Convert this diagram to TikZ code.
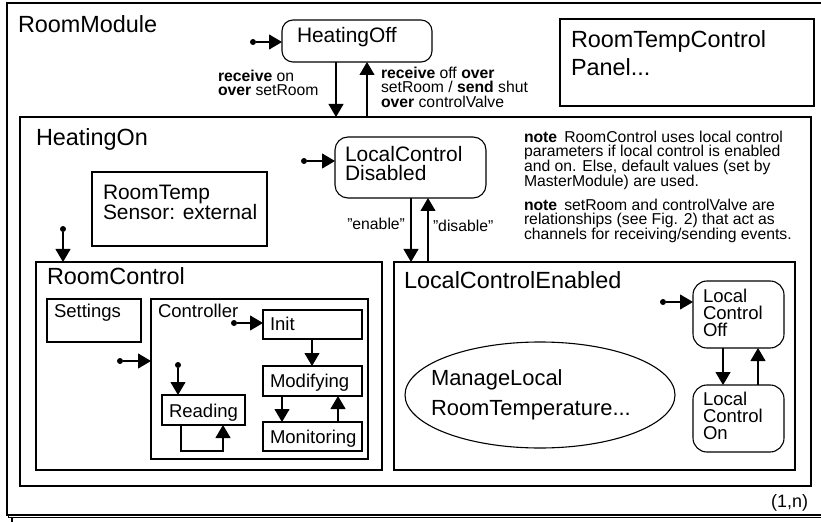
\documentclass[tikz,border=0pt]{standalone}
\usepackage{fontspec}
\setmainfont{Liberation Sans}
\usetikzlibrary{arrows.meta,fit,shapes.geometric}
\begin{document}
\begin{tikzpicture}[x=1bp,y=-1bp,
  every node/.style={inner sep=0pt,outer sep=0pt},
  lw/.style={line width=1.1bp},
  box/.style={draw,lw,fill=white,inner sep=0pt},
  rbox/.style={box,rounded corners=11bp},
  arr/.style={lw,-{Triangle[width=15bp,length=13bp]}},
  idot/.style={circle,fill,minimum size=6bp,inner sep=0pt},
  fbig/.style={font=\fontsize{23.5}{28}\selectfont},
  fmid/.style={font=\fontsize{21}{19.5}\selectfont},
  fsml/.style={font=\fontsize{18.6}{17.5}\selectfont},
  flab/.style={font=\fontsize{15.8}{15}\selectfont},
  ttl/.style={fbig,anchor=base west},
  txt/.style={anchor=north west,align=left}
]
\useasboundingbox (0,0) rectangle (821,522);
% stacked outer frames
\draw[lw,fill=white] (12,8) rectangle (845,535);
\draw[lw,fill=white] (8.5,5.5) rectangle (840,517.5);
\node[box,fit={(7,3)(835,515)}] (rm) {};
\node[ttl] (trm) at (18,33) {RoomModule};

% HeatingOff
\node[rbox,fit={(282,20)(432,62)}] (hoff) {};
\node[fmid,anchor=base west] (thoff) at (297,43) {HeatingOff};
\node[idot] (d0) at (253,42) {};
\draw[arr] (d0) -- (hoff.west |- d0);

% Panel
\node[box,fit={(560,19)(814,106)}] (panel) {};
\node[fbig,txt] (tpanel) at (571,30.2) {RoomTempControl\\Panel...};

% HeatingOn
\node[box,fit={(20,117)(811,486)}] (hon) {};
\node[ttl] (thon) at (36,146) {HeatingOn};

\coordinate (xa) at (336,0);
\coordinate (xb) at (367,0);
\draw[arr] (hoff.south -| xa) -- (hon.north -| xa);
\draw[arr] (hon.north -| xb) -- (hoff.south -| xb);
\node[flab,txt] (lon) at (218,69.6) {\textbf{receive} on\\\textbf{over} setRoom};
\node[flab,txt] (loff) at (381,66.6) {\textbf{receive} off \textbf{over}\\setRoom / \textbf{send} shut\\\textbf{over} controlValve};

% notes
\node[flab,txt] (note1) at (524,130.6) {\textbf{note}\hspace{0.45em}RoomControl uses local control\\parameters if local control is enabled\\and on. Else, default values (set by\\MasterModule) are used.};
\node[flab,txt] (note2) at (524,198.6) {\textbf{note}\hspace{0.45em}setRoom and controlValve are\\relationships (see Fig. 2) that act as\\channels for receiving/sending events.};

% LocalControl Disabled
\node[rbox,rounded corners=13bp,fit={(335,137)(486,198)}] (lcd) {};
\node[fmid,txt] (tlcd) at (345,145.9) {LocalControl\\Disabled};
\node[idot] (d1) at (304,161) {};
\draw[arr] (d1) -- (lcd.west |- d1);

% RoomTemp sensor
\node[box,fit={(92,172)(267,246)}] (rts) {};
\node[fmid,txt] (trts) at (103,184.9) {RoomTemp\\Sensor: external};

% RoomControl
\node[box,fit={(36,262)(382,470)}] (rc) {};
\node[ttl] (trc) at (47,285) {RoomControl};
\node[idot] (d2) at (63,229) {};
\draw[arr] (d2) -- (rc.north -| d2);

\node[box,fit={(47,299)(141,342)}] (set) {};
\node[fsml,anchor=base west] (tset) at (54,318) {Settings};

\node[box,fit={(151,299)(368,459)}] (ctl) {};
\node[fsml,anchor=base west] (tctl) at (158,318) {Controller};
\node[idot] (d3) at (120,361) {};
\draw[arr] (d3) -- (ctl.west |- d3);

\node[box,fit={(263,310)(362,339)}] (init) {};
\node[fsml,anchor=base west] (tinit) at (270,330) {Init};
\node[idot] (d4) at (234,323) {};
\draw[arr] (d4) -- (init.west |- d4);

\node[box,fit={(263,366)(362,396)}] (mod) {};
\node[fsml,anchor=base west] (tmod) at (270,387) {Modifying};

\node[box,fit={(263,422)(362,451)}] (mon) {};
\node[fsml,anchor=base west] (tmon) at (270,443) {Monitoring};

\coordinate (xc) at (312,0);
\coordinate (xd) at (282,0);
\coordinate (xe) at (338,0);
\draw[arr] (init.south -| xc) -- (mod.north -| xc);
\draw[arr] (mod.south -| xd) -- (mon.north -| xd);
\draw[arr] (mon.north -| xe) -- (mod.south -| xe);

\node[box,fit={(162,395)(245,425)}] (read) {};
\node[fsml,anchor=base west] (tread) at (169,417) {Reading};
\node[idot] (d5) at (178,365) {};
\draw[arr] (d5) -- (read.north -| d5);
\draw[arr] ([xshift=-22.5bp]read.south) -- ++(0,26) -| ([xshift=19.5bp]read.south);

% LocalControlEnabled
\node[box,fit={(394,262)(795,470)}] (lce) {};
\node[ttl] (tlce) at (404,289) {LocalControlEnabled};
\coordinate (xf) at (411,0);
\coordinate (xg) at (428,0);
\draw[arr] (lcd.south -| xf) -- (lce.north -| xf);
\draw[arr] (lce.north -| xg) -- (lcd.south -| xg);
\node[flab,anchor=east] (len) at (405,224) {\symbol{34}enable\symbol{34}};
\node[flab,anchor=west] (ldis) at (433,226) {\symbol{34}disable\symbol{34}};

\node[draw,lw,ellipse,minimum width=270bp,minimum height=106bp] (ml) at (540,395) {};
\node[font=\fontsize{22}{30}\selectfont,txt] (tml) at (431,370) {ManageLocal\\RoomTemperature...};

\node[rbox,rounded corners=14bp,fit={(693,281)(784,348)}] (lcoff) {};
\node[fsml,txt] (tlcoff) at (703,288.6) {Local\\Control\\Off};
\node[rbox,rounded corners=14bp,fit={(693,385)(784,452)}] (lcon) {};
\node[fsml,txt] (tlcon) at (703,391.6) {Local\\Control\\On};
\node[idot] (d6) at (663,302) {};
\draw[arr] (d6) -- (lcoff.west |- d6);
\coordinate (xh) at (723,0);
\coordinate (xi) at (758,0);
\draw[arr] (lcoff.south -| xh) -- (lcon.north -| xh);
\draw[arr] (lcon.north -| xi) -- (lcoff.south -| xi);

\node[font=\fontsize{18}{20}\selectfont,anchor=base east] (mult) at (808,507) {(1,n)};
\end{tikzpicture}
\end{document}
